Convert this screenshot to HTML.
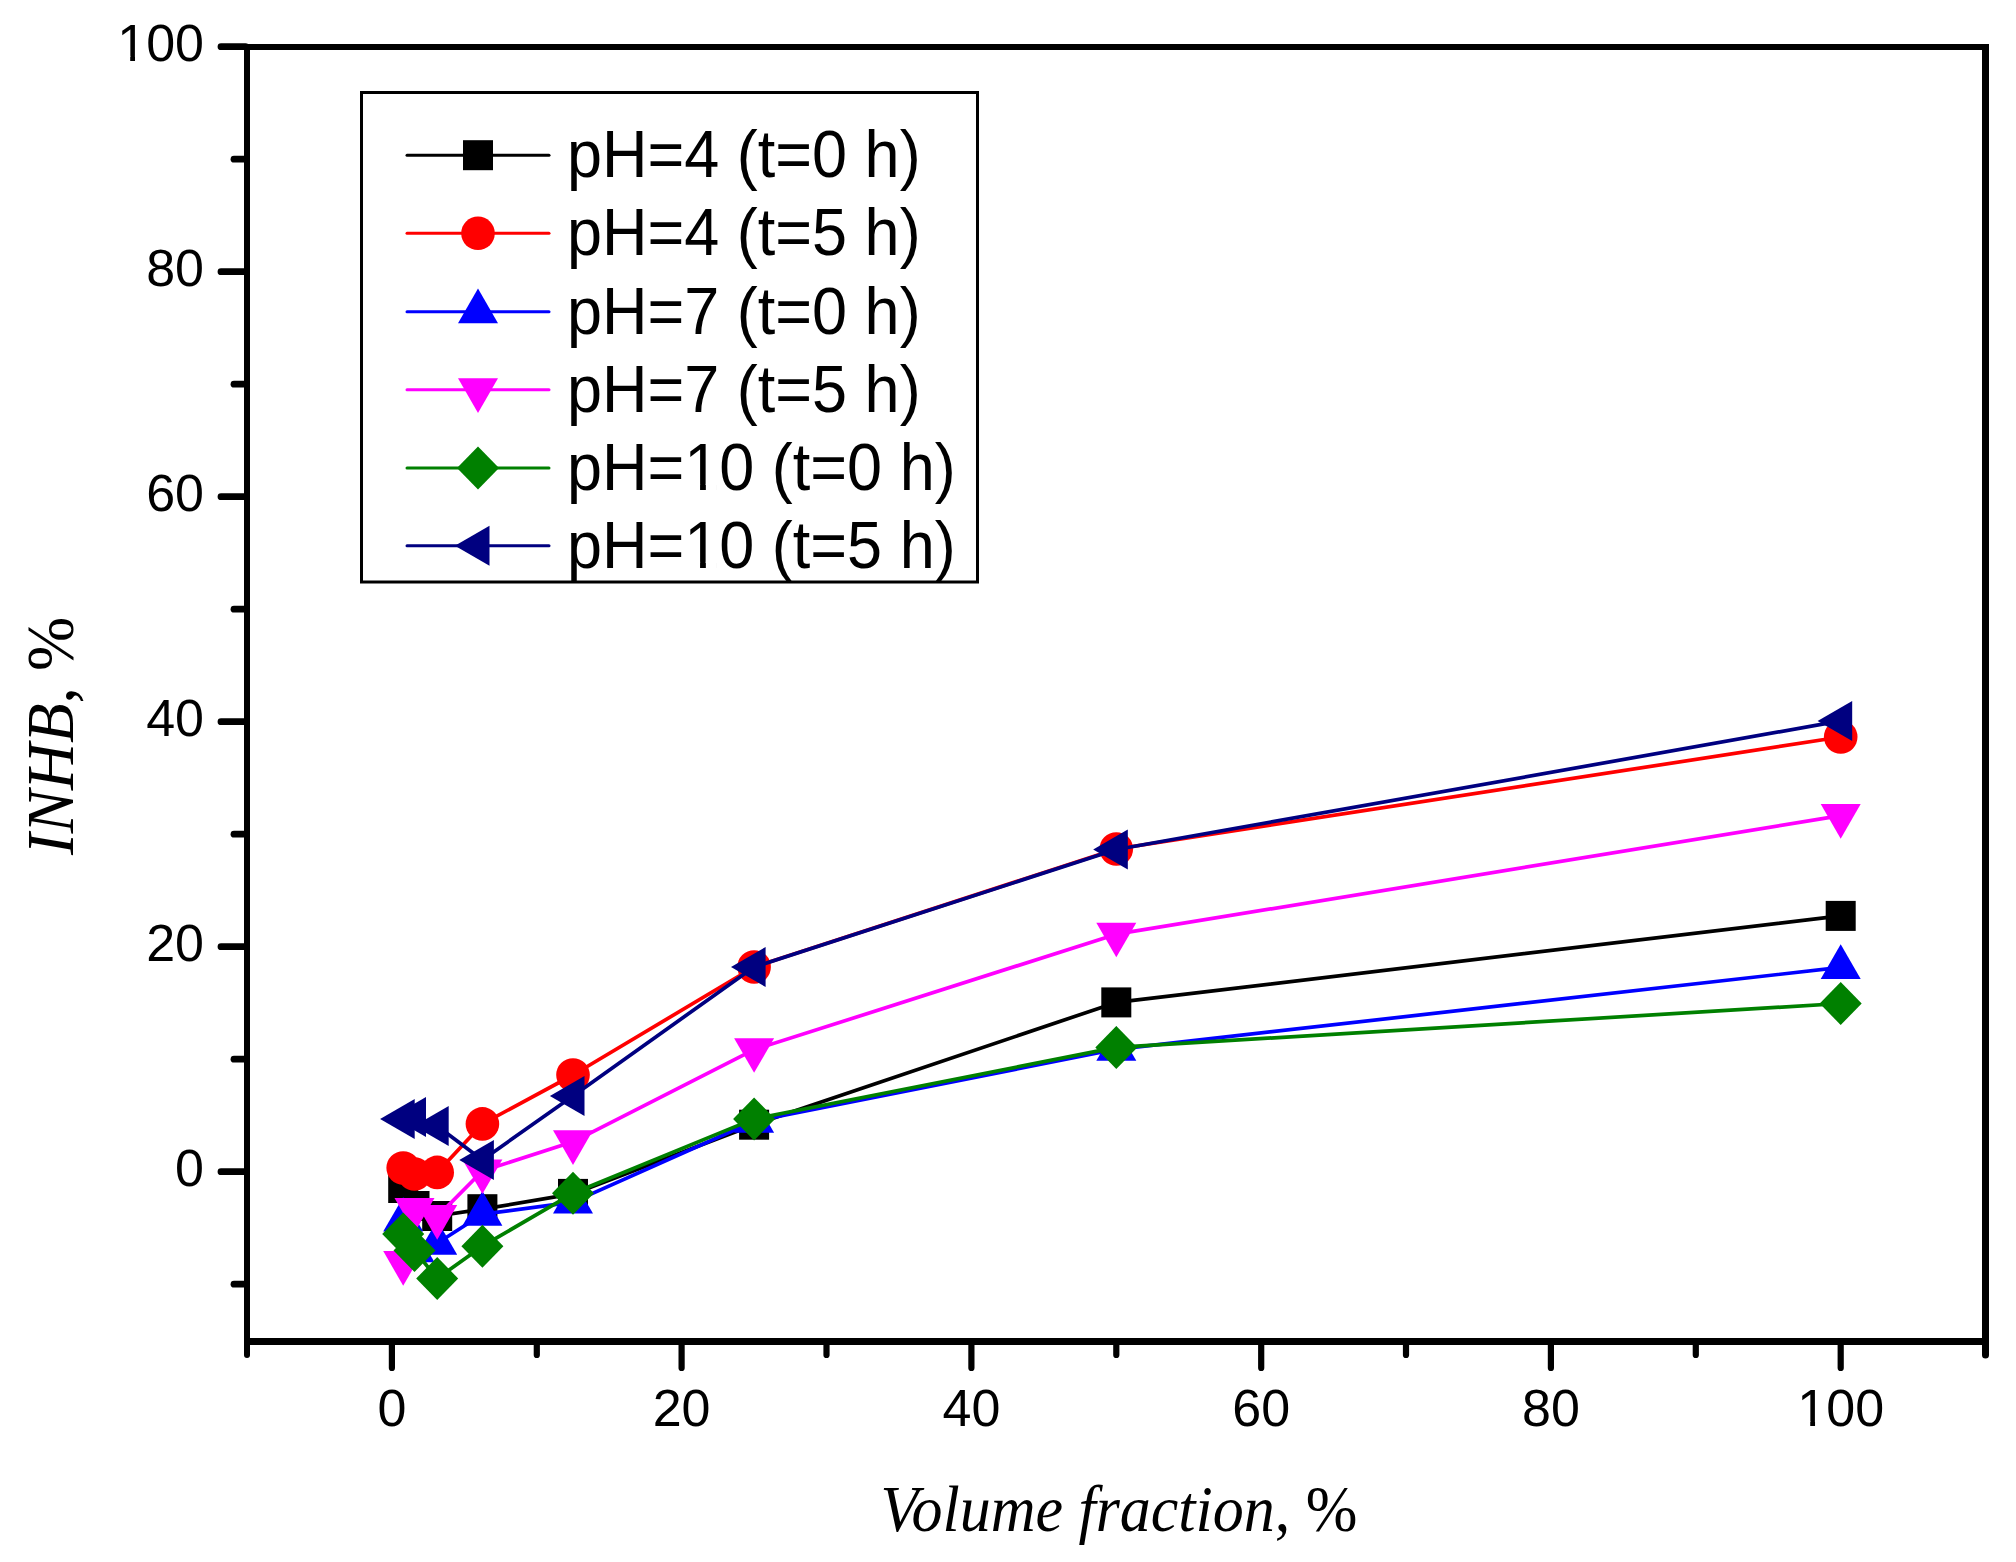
<!DOCTYPE html>
<html><head><meta charset="utf-8"><title>INHB vs Volume fraction</title>
<style>html,body{margin:0;padding:0;background:#fff;}body{width:2016px;height:1562px;overflow:hidden;}svg{display:block;}.tk{font-family:"Liberation Sans",Arial,sans-serif;font-size:52px;fill:#000;}.lg{font-family:"Liberation Sans",Arial,sans-serif;font-size:63px;fill:#000;}.ttl{font-family:"Liberation Serif","Times New Roman",serif;font-size:64px;fill:#000;}.it{font-style:italic;}</style></head><body>
<svg width="2016" height="1562" viewBox="0 0 2016 1562">
<rect width="2016" height="1562" fill="#fff"/>
<g stroke-linejoin="round" stroke-linecap="round">
<polyline points="403.2,1188 414.5,1206 437.2,1216 482.4,1209.2 573,1193.9 754.1,1124.7 1116.3,1002.4 1840.7,915.9" fill="none" stroke="#000000" stroke-width="3.7"/>
<rect x="388.2" y="1173" width="30" height="30" fill="#000000"/>
<rect x="399.5" y="1191" width="30" height="30" fill="#000000"/>
<rect x="422.2" y="1201" width="30" height="30" fill="#000000"/>
<rect x="467.4" y="1194.2" width="30" height="30" fill="#000000"/>
<rect x="558" y="1178.9" width="30" height="30" fill="#000000"/>
<rect x="739.1" y="1109.7" width="30" height="30" fill="#000000"/>
<rect x="1101.3" y="987.4" width="30" height="30" fill="#000000"/>
<rect x="1825.7" y="900.9" width="30" height="30" fill="#000000"/>
<polyline points="403.2,1168 414.5,1174 437.2,1172.4 482.4,1123.9 573,1075 754.1,967 1116.3,849 1840.7,737" fill="none" stroke="#FF0000" stroke-width="3.7"/>
<circle cx="403.2" cy="1168" r="16.8" fill="#FF0000"/>
<circle cx="414.5" cy="1174" r="16.8" fill="#FF0000"/>
<circle cx="437.2" cy="1172.4" r="16.8" fill="#FF0000"/>
<circle cx="482.4" cy="1123.9" r="16.8" fill="#FF0000"/>
<circle cx="573" cy="1075" r="16.8" fill="#FF0000"/>
<circle cx="754.1" cy="967" r="16.8" fill="#FF0000"/>
<circle cx="1116.3" cy="849" r="16.8" fill="#FF0000"/>
<circle cx="1840.7" cy="737" r="16.8" fill="#FF0000"/>
<polyline points="403.2,1220 414.5,1250.8 437.2,1243.3 482.4,1214.2 573,1202.1 754.1,1121.3 1116.3,1049.3 1840.7,967.4" fill="none" stroke="#0000FF" stroke-width="3.7"/>
<polygon points="403.2,1196.9 423.2,1231.5 383.2,1231.5" fill="#0000FF"/>
<polygon points="414.5,1227.7 434.5,1262.3 394.5,1262.3" fill="#0000FF"/>
<polygon points="437.2,1220.2 457.2,1254.8 417.2,1254.8" fill="#0000FF"/>
<polygon points="482.4,1191.1 502.4,1225.7 462.4,1225.7" fill="#0000FF"/>
<polygon points="573,1179 593,1213.6 553,1213.6" fill="#0000FF"/>
<polygon points="754.1,1098.2 774.1,1132.8 734.1,1132.8" fill="#0000FF"/>
<polygon points="1116.3,1026.2 1136.3,1060.8 1096.3,1060.8" fill="#0000FF"/>
<polygon points="1840.7,944.3 1860.7,978.9 1820.7,978.9" fill="#0000FF"/>
<polyline points="403.2,1262.6 414.5,1209.6 437.2,1216.6 482.4,1171 573,1141.8 754.1,1049.7 1116.3,934.2 1840.7,815.6" fill="none" stroke="#FF00FF" stroke-width="3.7"/>
<polygon points="383.2,1251.1 423.2,1251.1 403.2,1285.7" fill="#FF00FF"/>
<polygon points="394.5,1198.1 434.5,1198.1 414.5,1232.7" fill="#FF00FF"/>
<polygon points="417.2,1205.1 457.2,1205.1 437.2,1239.7" fill="#FF00FF"/>
<polygon points="462.4,1159.5 502.4,1159.5 482.4,1194.1" fill="#FF00FF"/>
<polygon points="553,1130.3 593,1130.3 573,1164.9" fill="#FF00FF"/>
<polygon points="734.1,1038.2 774.1,1038.2 754.1,1072.8" fill="#FF00FF"/>
<polygon points="1096.3,922.7 1136.3,922.7 1116.3,957.3" fill="#FF00FF"/>
<polygon points="1820.7,804.1 1860.7,804.1 1840.7,838.7" fill="#FF00FF"/>
<polyline points="403.2,1234 414.5,1250.5 437.2,1278.5 482.4,1246.2 573,1193.3 754.1,1118.9 1116.3,1047.4 1840.7,1003.5" fill="none" stroke="#008000" stroke-width="3.7"/>
<polygon points="403.2,1212.5 424.2,1234 403.2,1255.5 382.2,1234" fill="#008000"/>
<polygon points="414.5,1229 435.5,1250.5 414.5,1272 393.5,1250.5" fill="#008000"/>
<polygon points="437.2,1257 458.2,1278.5 437.2,1300 416.2,1278.5" fill="#008000"/>
<polygon points="482.4,1224.7 503.4,1246.2 482.4,1267.7 461.4,1246.2" fill="#008000"/>
<polygon points="573,1171.8 594,1193.3 573,1214.8 552,1193.3" fill="#008000"/>
<polygon points="754.1,1097.4 775.1,1118.9 754.1,1140.4 733.1,1118.9" fill="#008000"/>
<polygon points="1116.3,1025.9 1137.3,1047.4 1116.3,1068.9 1095.3,1047.4" fill="#008000"/>
<polygon points="1840.7,982 1861.7,1003.5 1840.7,1025 1819.7,1003.5" fill="#008000"/>
<polyline points="403.2,1119 414.5,1117 437.2,1126 482.4,1159.9 573,1095.9 754.1,967 1116.3,849.5 1840.7,720.9" fill="none" stroke="#000080" stroke-width="3.7"/>
<polygon points="380.1,1119 414.7,1099 414.7,1139" fill="#000080"/>
<polygon points="391.4,1117 426,1097 426,1137" fill="#000080"/>
<polygon points="414.1,1126 448.7,1106 448.7,1146" fill="#000080"/>
<polygon points="459.3,1159.9 493.9,1139.9 493.9,1179.9" fill="#000080"/>
<polygon points="549.9,1095.9 584.5,1075.9 584.5,1115.9" fill="#000080"/>
<polygon points="731,967 765.6,947 765.6,987" fill="#000080"/>
<polygon points="1093.2,849.5 1127.8,829.5 1127.8,869.5" fill="#000080"/>
<polygon points="1817.6,720.9 1852.2,700.9 1852.2,740.9" fill="#000080"/>
</g>
<g stroke="#000" fill="none">
<line x1="244" y1="47" x2="1989" y2="47" stroke-width="6"/>
<line x1="247" y1="44" x2="247" y2="1345" stroke-width="6"/>
<line x1="1985.5" y1="44" x2="1985.5" y2="1345" stroke-width="7"/>
<line x1="244" y1="1341.5" x2="1989" y2="1341.5" stroke-width="7"/>
</g>
<g stroke="#000" stroke-linecap="round">
<line x1="234" y1="1284.2" x2="245.5" y2="1284.2" stroke-width="6.8"/>
<line x1="221" y1="1171.7" x2="245.5" y2="1171.7" stroke-width="6.8"/>
<line x1="234" y1="1059.2" x2="245.5" y2="1059.2" stroke-width="6.8"/>
<line x1="221" y1="946.7" x2="245.5" y2="946.7" stroke-width="6.8"/>
<line x1="234" y1="834.2" x2="245.5" y2="834.2" stroke-width="6.8"/>
<line x1="221" y1="721.7" x2="245.5" y2="721.7" stroke-width="6.8"/>
<line x1="234" y1="609.2" x2="245.5" y2="609.2" stroke-width="6.8"/>
<line x1="221" y1="496.7" x2="245.5" y2="496.7" stroke-width="6.8"/>
<line x1="234" y1="384.2" x2="245.5" y2="384.2" stroke-width="6.8"/>
<line x1="221" y1="271.7" x2="245.5" y2="271.7" stroke-width="6.8"/>
<line x1="234" y1="159.2" x2="245.5" y2="159.2" stroke-width="6.8"/>
<line x1="221" y1="46.7" x2="245.5" y2="46.7" stroke-width="6.8"/>
<line x1="247" y1="1343" x2="247" y2="1355" stroke-width="6"/>
<line x1="391.9" y1="1343" x2="391.9" y2="1368" stroke-width="6.2"/>
<line x1="536.8" y1="1343" x2="536.8" y2="1355" stroke-width="6.2"/>
<line x1="681.6" y1="1343" x2="681.6" y2="1368" stroke-width="6.2"/>
<line x1="826.5" y1="1343" x2="826.5" y2="1355" stroke-width="6.2"/>
<line x1="971.4" y1="1343" x2="971.4" y2="1368" stroke-width="6.2"/>
<line x1="1116.3" y1="1343" x2="1116.3" y2="1355" stroke-width="6.2"/>
<line x1="1261.2" y1="1343" x2="1261.2" y2="1368" stroke-width="6.2"/>
<line x1="1406" y1="1343" x2="1406" y2="1355" stroke-width="6.2"/>
<line x1="1550.9" y1="1343" x2="1550.9" y2="1368" stroke-width="6.2"/>
<line x1="1695.8" y1="1343" x2="1695.8" y2="1355" stroke-width="6.2"/>
<line x1="1840.7" y1="1343" x2="1840.7" y2="1368" stroke-width="6.2"/>
<line x1="1985.5" y1="1343" x2="1985.5" y2="1355" stroke-width="7"/>
</g>
<text class="tk" x="204" y="1185.7" text-anchor="end">0</text>
<text class="tk" x="204" y="960.7" text-anchor="end">20</text>
<text class="tk" x="204" y="735.7" text-anchor="end">40</text>
<text class="tk" x="204" y="510.7" text-anchor="end">60</text>
<text class="tk" x="204" y="285.7" text-anchor="end">80</text>
<text class="tk" x="204" y="60.7" text-anchor="end">100</text>
<rect x="120.79" y="55.82" width="9.42" height="6.08" fill="#fff"/><rect x="135.01" y="55.82" width="9.12" height="6.08" fill="#fff"/>
<text class="tk" x="391.9" y="1426" text-anchor="middle">0</text>
<text class="tk" x="681.6" y="1426" text-anchor="middle">20</text>
<text class="tk" x="971.4" y="1426" text-anchor="middle">40</text>
<text class="tk" x="1261.2" y="1426" text-anchor="middle">60</text>
<text class="tk" x="1550.9" y="1426" text-anchor="middle">80</text>
<text class="tk" x="1840.7" y="1426" text-anchor="middle">100</text>
<rect x="1800.82" y="1421.12" width="9.42" height="6.08" fill="#fff"/><rect x="1815.04" y="1421.12" width="9.12" height="6.08" fill="#fff"/>
<text class="ttl" transform="translate(880.5,1531) scale(1,1.058)" style="font-size:62px"><tspan class="it">Volume fraction</tspan>, %</text>
<text class="ttl" transform="translate(73,855) rotate(-90) scale(1,1.03)" style="font-size:65px"><tspan class="it">INHB</tspan>, %</text>
<rect x="361.5" y="92.5" width="616" height="489.5" fill="none" stroke="#000" stroke-width="3"/>
<line x1="407" y1="155.2" x2="549" y2="155.2" stroke="#000000" stroke-width="3" stroke-linecap="round"/>
<rect x="463" y="140.2" width="30" height="30" fill="#000000"/>
<text class="lg" transform="translate(567,177.2) scale(1,1.065)">pH=4 (t=0 h)</text>
<line x1="407" y1="233.3" x2="549" y2="233.3" stroke="#FF0000" stroke-width="3" stroke-linecap="round"/>
<circle cx="478" cy="233.3" r="16.8" fill="#FF0000"/>
<text class="lg" transform="translate(567,255.3) scale(1,1.065)">pH=4 (t=5 h)</text>
<line x1="407" y1="311.7" x2="549" y2="311.7" stroke="#0000FF" stroke-width="3" stroke-linecap="round"/>
<polygon points="478,288.6 498,323.2 458,323.2" fill="#0000FF"/>
<text class="lg" transform="translate(567,333.7) scale(1,1.065)">pH=7 (t=0 h)</text>
<line x1="407" y1="389.8" x2="549" y2="389.8" stroke="#FF00FF" stroke-width="3" stroke-linecap="round"/>
<polygon points="458,378.3 498,378.3 478,412.9" fill="#FF00FF"/>
<text class="lg" transform="translate(567,411.8) scale(1,1.065)">pH=7 (t=5 h)</text>
<line x1="407" y1="467.9" x2="549" y2="467.9" stroke="#008000" stroke-width="3" stroke-linecap="round"/>
<polygon points="478,446.4 499,467.9 478,489.4 457,467.9" fill="#008000"/>
<text class="lg" transform="translate(567,489.9) scale(1,1.065)">pH=10 (t=0 h)</text>
<rect x="688.63" y="483.89" width="11.44" height="7.21" fill="#fff"/><rect x="705.84" y="483.89" width="11.04" height="7.21" fill="#fff"/>
<line x1="407" y1="545.7" x2="549" y2="545.7" stroke="#000080" stroke-width="3" stroke-linecap="round"/>
<polygon points="454.9,545.7 489.5,525.7 489.5,565.7" fill="#000080"/>
<text class="lg" transform="translate(567,567.7) scale(1,1.065)">pH=10 (t=5 h)</text>
<rect x="688.63" y="561.69" width="11.44" height="7.21" fill="#fff"/><rect x="705.84" y="561.69" width="11.04" height="7.21" fill="#fff"/>
</svg></body></html>
